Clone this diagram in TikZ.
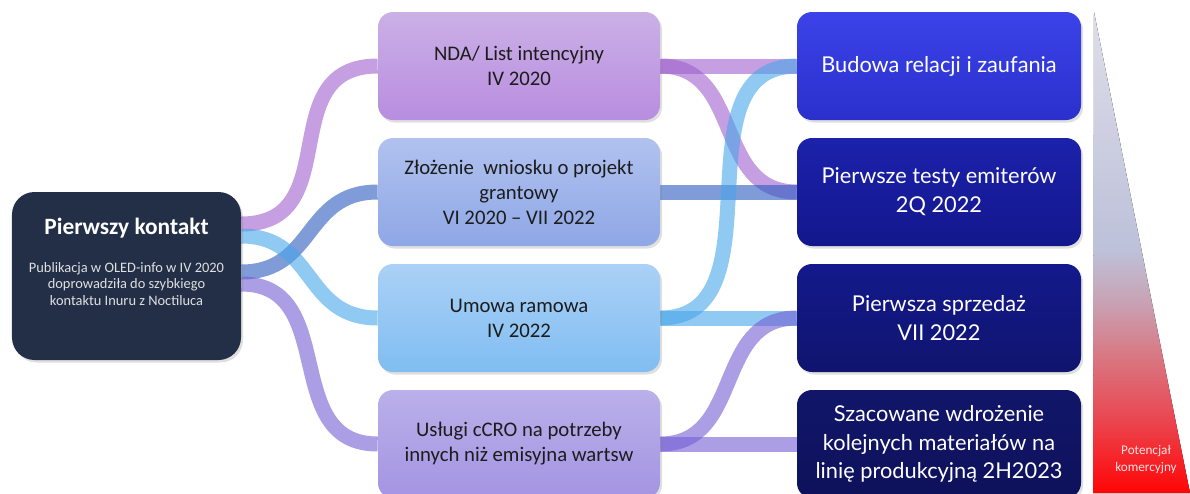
\documentclass[tikz,border=0pt]{standalone}
\usepackage{fontspec}
\setmainfont{Carlito}
\newfontfamily\gillfont{Lato}
\usetikzlibrary{positioning, backgrounds, shadows}

\definecolor{pkfill}{HTML}{222F47}
\definecolor{midtext}{HTML}{1C1C1C}
\definecolor{ndatop}{HTML}{CBB0E6}
\definecolor{ndabot}{HTML}{B88DE0}
\definecolor{wnitop}{HTML}{B1C2EF}
\definecolor{wnibot}{HTML}{8EA7E6}
\definecolor{umotop}{HTML}{ABD1F6}
\definecolor{umobot}{HTML}{80BDF2}
\definecolor{usltop}{HTML}{BAB0EA}
\definecolor{uslbot}{HTML}{A494E2}
\definecolor{r1top}{HTML}{3B43E9}
\definecolor{r1bot}{HTML}{2B30CC}
\definecolor{r2top}{HTML}{1C21AB}
\definecolor{r2bot}{HTML}{13178C}
\definecolor{r3top}{HTML}{13198C}
\definecolor{r3bot}{HTML}{10146E}
\definecolor{r4top}{HTML}{11166A}
\definecolor{r4bot}{HTML}{0E115A}
\definecolor{bpurple}{HTML}{9F5FCD}
\definecolor{bdarkblue}{HTML}{2A5AC0}
\definecolor{blightblue}{HTML}{46A5E8}
\definecolor{blavender}{HTML}{735DD4}
\definecolor{potred}{HTML}{FF0505}
\definecolor{pota}{HTML}{EA4650}
\definecolor{potb}{HTML}{D97580}
\definecolor{potc}{HTML}{C8A3B5}
\definecolor{potd}{HTML}{BDC1D9}
\definecolor{pote}{HTML}{DEDDE9}
\definecolor{pottext}{HTML}{FFE2E2}

\pgfdeclareverticalshading{potencjal}{100bp}{color(0bp)=(potred); color(25bp)=(potred);
  color(32.6bp)=(pota); color(38.9bp)=(potb); color(45bp)=(potc); color(50.3bp)=(potd);
  color(75bp)=(pote); color(100bp)=(pote)}

\begin{document}
\begin{tikzpicture}[on grid, node distance=2.52cm,
    box/.style={rectangle, rounded corners=0.3cm, minimum width=5.64cm, minimum height=2.16cm,
      align=center, drop shadow={opacity=0.25, shadow xshift=0.04cm, shadow yshift=-0.05cm}},
    midbox/.style={box, text=midtext, font=\fontsize{11.8}{14.2}\selectfont},
    goalbox/.style={box, minimum width=5.68cm, text=white, font=\gillfont\fontsize{12.4}{16.4}\selectfont},
    band/.style={line width=0.3cm, opacity=0.6},
    purpleband/.style={band, color=bpurple},
    darkband/.style={band, color=bdarkblue},
    lightband/.style={band, color=blightblue},
    lavenderband/.style={band, color=blavender}]
    \useasboundingbox (0,0) rectangle (23.8,-9.86);

    \node[box, fill=pkfill, rounded corners=0.45cm, minimum width=4.58cm, minimum height=3.36cm] (pk) at (2.53,-5.52) {};
    \node[text=white, font=\bfseries\fontsize{13.3}{16}\selectfont] (pktitle) [above=0.96cm of pk] {Pierwszy kontakt};
    \node[text=white!88!black, align=center, font=\fontsize{8.2}{9.6}\selectfont] (pkdesc) [below=0.16cm of pk]
      {Publikacja w OLED-info w IV 2020\\doprowadziła do szybkiego\\kontaktu Inuru z Noctiluca};

    \node[midbox, top color=ndatop, bottom color=ndabot] (nda) at (10.38,-1.32) {NDA/ List intencyjny\\IV 2020};
    \node[midbox, top color=wnitop, bottom color=wnibot] (wniosek) [below=of nda] {Złożenie \ wniosku o projekt\\grantowy\\VI 2020 – VII 2022};
    \node[midbox, top color=umotop, bottom color=umobot] (umowa) [below=of wniosek] {Umowa ramowa\\IV 2022};
    \node[midbox, top color=usltop, bottom color=uslbot] (uslugi) [below=of umowa] {Usługi cCRO na potrzeby\\innych niż emisyjna wartsw};

    \node[goalbox, top color=r1top, bottom color=r1bot] (relacje) [right=8.4cm of nda] {Budowa relacji i zaufania};
    \node[goalbox, top color=r2top, bottom color=r2bot] (testy) [below=of relacje] {Pierwsze testy emiterów\\2Q 2022};
    \node[goalbox, top color=r3top, bottom color=r3bot] (sprzedaz) [below=of testy] {Pierwsza sprzedaż\\VII 2022};
    \node[goalbox, top color=r4top, bottom color=r4bot] (wdrozenie) [below=of sprzedaz] {Szacowane wdrożenie\\kolejnych materiałów na\\linię produkcyjną 2H2023};

    \fill[shading=potencjal] (21.88,-0.24) -- (21.86,-9.86) -- (23.8,-9.86) -- cycle;
    \node[text=pottext, align=center, font=\fontsize{7.5}{9.6}\selectfont] (potencjal) at (22.92,-9.19) {Potencjał\\komercyjny};

    \begin{scope}[on background layer]
      \path[purpleband]
        ([yshift=1.04cm]pk.east) edge[out=0, in=180, looseness=1.3] (nda.west)
        (nda.east) edge (relacje.west)
                   edge[out=0, in=180, looseness=1.15] (testy.west);
      \path[darkband]
        ([yshift=0.08cm]pk.east) edge[out=0, in=180, looseness=1.2] (wniosek.west)
        (wniosek.east) edge (testy.west);
      \path[lightband]
        ([yshift=0.8cm]pk.east) edge[out=0, in=180, looseness=1.2] (umowa.west)
        (umowa.east) edge (sprzedaz.west)
                     edge[out=0, in=180, looseness=1.1] (relacje.west);
      \path[lavenderband]
        ([yshift=-0.16cm]pk.east) edge[out=0, in=180, looseness=1.2] (uslugi.west)
        (uslugi.east) edge (wdrozenie.west)
                      edge[out=0, in=180, looseness=1.15] (sprzedaz.west);
    \end{scope}
\end{tikzpicture}
\end{document}
